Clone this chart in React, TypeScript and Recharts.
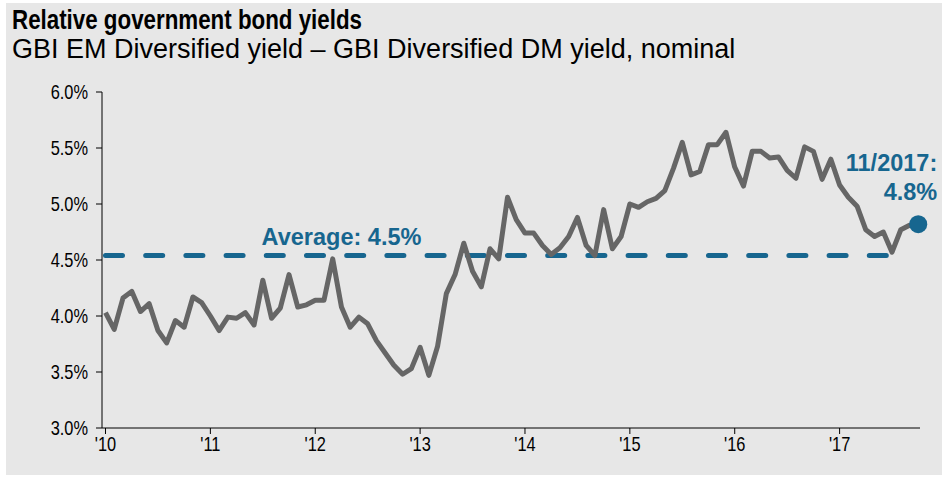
import { Line, LineChart, ReferenceDot, ReferenceLine, XAxis, YAxis } from 'recharts';

// monthly spread, Jan 2010 onwards (%)
const SPREAD = [
  4.03, 3.88, 4.16, 4.22, 4.04, 4.11, 3.87, 3.76, 3.96, 3.9, 4.17, 4.12,
  4.0, 3.87, 3.99, 3.98, 4.03, 3.92, 4.32, 3.98, 4.07, 4.37, 4.08, 4.1,
  4.14, 4.14, 4.51, 4.08, 3.9, 3.99, 3.93, 3.78, 3.67, 3.56, 3.48, 3.53,
  3.72, 3.47, 3.73, 4.2, 4.37, 4.65, 4.4, 4.26, 4.6, 4.51, 5.06, 4.86,
  4.74, 4.74, 4.63, 4.55, 4.61, 4.71, 4.88, 4.63, 4.54, 4.95, 4.6, 4.71,
  5.0, 4.97, 5.02, 5.05, 5.12, 5.32, 5.55, 5.26, 5.29, 5.53, 5.53, 5.64,
  5.33, 5.16, 5.47, 5.47, 5.41, 5.42, 5.3, 5.23, 5.51, 5.47, 5.22, 5.4,
  5.17, 5.06, 4.98, 4.77, 4.71, 4.75, 4.57, 4.77, 4.81, 4.82
];

const YEAR_TICKS = [0, 12, 24, 36, 48, 60, 72, 84];
const YEAR_LABELS = ["'10", "'11", "'12", "'13", "'14", "'15", "'16", "'17"];
const Y_TICKS = [3, 3.5, 4, 4.5, 5, 5.5, 6];

const AVERAGE = 4.54;
const AVERAGE_END = 90;

const data = SPREAD.map((v, i) => ({ i, v }));
const last = data[data.length - 1];

const BLUE = '#17668f';
const FONT = '"Liberation Sans", Arial, sans-serif';
const SQUEEZE = 0.82; // the source uses a narrow face for titles and ticks

function NarrowTick({ x, y, payload, textAnchor, kind }: any) {
  const label = kind === 'x'
    ? YEAR_LABELS[YEAR_TICKS.indexOf(payload.value)]
    : `${Number(payload.value).toFixed(1)}%`;
  return (
    <g transform={`translate(${x},${y})`}>
      <text
        transform={`scale(${SQUEEZE},1)`}
        textAnchor={textAnchor}
        dy={kind === 'x' ? '0.75em' : '0.36em'}
        fill="#000"
        fontSize={20}
        fontFamily={FONT}
      >
        {label}
      </text>
    </g>
  );
}

function AverageLabel({ viewBox }: any) {
  return (
    <text x={viewBox.x + 236} y={viewBox.y - 11} textAnchor="middle" fill={BLUE} fontSize={23.5} fontWeight="bold" fontFamily={FONT}>
      Average: 4.5%
    </text>
  );
}

function LastLabel({ viewBox }: any) {
  const x = viewBox.x + 28;
  return (
    <text textAnchor="end" fill={BLUE} fontSize={23.5} fontWeight="bold" fontFamily={FONT}>
      <tspan x={x} y={viewBox.y - 44}>11/2017:</tspan>
      <tspan x={x} y={viewBox.y - 15}>4.8%</tspan>
    </text>
  );
}

export default function App() {
  return (
    <div style={{ position: 'absolute', left: 0, top: 0, width: 951, height: 477, background: '#fff', fontFamily: FONT }}>
      <div style={{ position: 'absolute', left: 6, top: 3, width: 936, height: 472, background: '#e7e7e7' }} />
      <svg width={951} height={70} style={{ position: 'absolute', left: 0, top: 0 }}>
        <text x={12} y={29} fontSize={28} fontWeight="bold" fill="#000" fontFamily={FONT} textLength={350} lengthAdjust="spacingAndGlyphs">
          Relative government bond yields
        </text>
        <text x={12} y={58} fontSize={27} fill="#000" fontFamily={FONT}>
          GBI EM Diversified yield – GBI Diversified DM yield, nominal
        </text>
      </svg>
      <div style={{ position: 'absolute', left: 0, top: 0 }}>
        <LineChart width={951} height={477} data={data} margin={{ top: 92, right: 31, bottom: 19, left: 32 }}>
          <XAxis
            dataKey="i"
            type="number"
            domain={[-0.4, 93.2]}
            ticks={YEAR_TICKS}
            axisLine={{ stroke: '#000' }}
            tickLine={{ stroke: '#000' }}
            tickSize={6}
            tickMargin={2}
            height={30}
            tick={<NarrowTick kind="x" />}
          />
          <YAxis
            type="number"
            domain={[3, 6]}
            ticks={Y_TICKS}
            axisLine={{ stroke: '#000' }}
            tickLine={{ stroke: '#000' }}
            tickSize={6}
            tickMargin={8}
            width={70}
            tick={<NarrowTick kind="y" />}
          />
          <ReferenceLine
            segment={[{ x: 0, y: AVERAGE }, { x: AVERAGE_END, y: AVERAGE }]}
            stroke={BLUE}
            strokeWidth={5}
            strokeDasharray="17 23.2"
            strokeLinecap="round"
            label={<AverageLabel />}
          />
          <Line
            dataKey="v"
            type="linear"
            stroke="#666666"
            strokeWidth={5}
            strokeLinejoin="round"
            dot={false}
            activeDot={false}
            isAnimationActive={false}
          />
          <ReferenceDot x={last.i} y={last.v} r={9} fill={BLUE} stroke="none" label={<LastLabel />} />
        </LineChart>
      </div>
    </div>
  );
}
